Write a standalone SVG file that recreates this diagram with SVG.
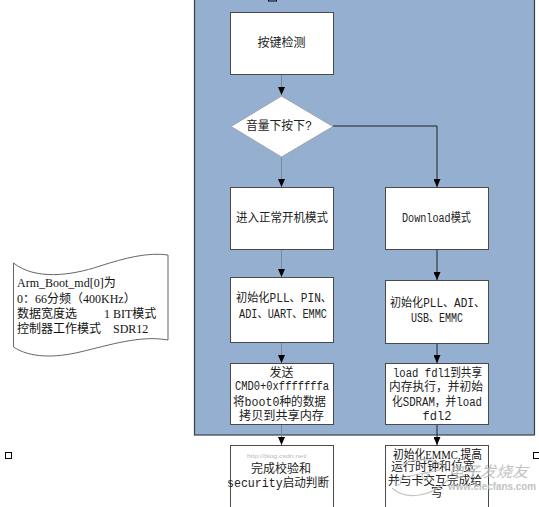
<svg xmlns="http://www.w3.org/2000/svg" width="539" height="507" viewBox="0 0 539 507">
<style>
.box{fill:#fff;stroke:#4a4a4a;stroke-width:1}
.t{font-family:"Liberation Mono","Noto Sans CJK SC",monospace;font-size:12px;fill:#222}
.n{font-family:"Liberation Serif","Noto Sans CJK SC",serif;font-size:12px;fill:#111}
.lg{stroke:#7688a0;stroke-width:1;fill:none}
.ld{stroke:#222;stroke-width:1;fill:none}
.sq{fill:none;stroke:#000;stroke-width:1}
.wm{font-family:"Liberation Sans","Noto Sans CJK SC",sans-serif;fill:#b8b8b8}
</style>
<defs>
<marker id="ah" viewBox="0 0 8 7" refX="8" refY="3.5" markerWidth="8" markerHeight="7" markerUnits="userSpaceOnUse" orient="auto">
<path d="M0,0 L8,3.5 L0,7 Z" fill="#000"/>
</marker>
</defs>
<rect width="539" height="507" fill="#fff"/>
<g id="panel">
<rect x="194.5" y="-2" width="340" height="437" fill="#95afd0" stroke="#3a3f4a" stroke-width="1.2"/>
</g>
<g id="markers">
<rect class="sq" x="5.5" y="452.5" width="6" height="6"/>
<rect class="sq" x="533.5" y="452.5" width="6" height="6"/>
<rect class="sq" x="268.5" y="-5" width="8" height="6"/>
</g>
<g id="note">
<path d="M13.5,263 C35,280 70,276 100,266 C125,258 148,252 168,255 L168,340 C140,335 110,345 80,352 C55,358 30,358 13.5,347 Z" fill="#fff" stroke="#666" stroke-width="1"/>
<text class="n" x="17" y="287">Arm_Boot_md[0]为</text>
<text class="n" x="17" y="303">0：66分频（400KHz）</text>
<text class="n" x="17" y="318">数据宽度选</text>
<text class="n" x="104" y="318">1 BIT模式</text>
<text class="n" x="17" y="333">控制器工作模式</text>
<text class="n" x="113" y="333">SDR12</text>
</g>
<g id="connectors">
<path class="lg" d="M281.5,74 V95" marker-end="url(#ah)"/>
<path class="lg" d="M281.5,157 V187" marker-end="url(#ah)"/>
<path class="ld" d="M333,126 H437 V187" marker-end="url(#ah)"/>
<path class="lg" d="M281.5,249 V277" marker-end="url(#ah)"/>
<path class="ld" d="M437,249 V280" marker-end="url(#ah)"/>
<path class="lg" d="M281.5,342 V363" marker-end="url(#ah)"/>
<path class="ld" d="M437,343 V363" marker-end="url(#ah)"/>
<path class="lg" d="M281.5,424 V445" marker-end="url(#ah)"/>
<path class="ld" d="M437,424 V445" marker-end="url(#ah)"/>
</g>
<g id="n_keydetect">
<rect class="box" x="230.5" y="12.5" width="103" height="62"/>
<text class="t" x="281.5" y="47" text-anchor="middle">按键检测</text>
</g>
<g id="n_volume">
<path d="M281.5,96 L333,126.5 L281.5,157 L231,126.5 Z" fill="#fff" stroke="#9aa4b2" stroke-width="1"/>
<text class="t" x="246" y="130" textLength="66" lengthAdjust="spacingAndGlyphs">音量下按下?</text>
</g>
<g id="n_normal">
<rect class="box" x="230.5" y="187.5" width="103" height="62"/>
<text class="t" x="236" y="222" textLength="92" lengthAdjust="spacingAndGlyphs">进入正常开机模式</text>
</g>
<g id="n_download">
<rect class="box" x="385.5" y="187.5" width="103" height="62"/>
<text class="t" x="402" y="222" textLength="69" lengthAdjust="spacingAndGlyphs">Download模式</text>
</g>
<g id="n_init_left">
<rect class="box" x="230.5" y="277.5" width="103" height="65"/>
<text class="t" x="236" y="302" textLength="96" lengthAdjust="spacingAndGlyphs">初始化PLL、PIN、</text>
<text class="t" x="239" y="318" textLength="88" lengthAdjust="spacingAndGlyphs">ADI、UART、EMMC</text>
</g>
<g id="n_init_right">
<rect class="box" x="385.5" y="280.5" width="103" height="63"/>
<text class="t" x="390" y="307" textLength="95" lengthAdjust="spacingAndGlyphs">初始化PLL、ADI、</text>
<text class="t" x="411" y="322" textLength="52" lengthAdjust="spacingAndGlyphs">USB、EMMC</text>
</g>
<g id="n_send">
<rect class="box" x="230.5" y="363.5" width="103" height="61"/>
<text class="t" x="281.5" y="377" text-anchor="middle">发送</text>
<text class="t" x="235" y="390" textLength="94" lengthAdjust="spacingAndGlyphs">CMD0+0xfffffffa</text>
<text class="t" x="233" y="406" textLength="93" lengthAdjust="spacingAndGlyphs">将boot0种的数据</text>
<text class="t" x="239" y="420" textLength="85" lengthAdjust="spacingAndGlyphs">拷贝到共享内存</text>
</g>
<g id="n_load">
<rect class="box" x="385.5" y="363.5" width="103" height="61"/>
<text class="t" x="393" y="377" textLength="89" lengthAdjust="spacingAndGlyphs">load fdl1到共享</text>
<text class="t" x="389" y="391" textLength="94" lengthAdjust="spacingAndGlyphs">内存执行，并初始</text>
<text class="t" x="392" y="406" textLength="90" lengthAdjust="spacingAndGlyphs">化SDRAM，并load</text>
<text class="t" x="437" y="420" text-anchor="middle">fdl2</text>
</g>
<g id="n_verify">
<rect class="box" x="230.5" y="445.5" width="103" height="70"/>
<text class="wm" x="247" y="458" font-size="5.5" textLength="60" lengthAdjust="spacingAndGlyphs">http://blog.csdn.net/</text>
<text class="t" x="281" y="473" text-anchor="middle">完成校验和</text>
<text class="t" x="227" y="487" textLength="102" lengthAdjust="spacingAndGlyphs">security启动判断</text>
</g>
<g id="n_emmc">
<rect class="box" x="385.5" y="445.5" width="103" height="70"/>
<text class="n" x="393" y="459" textLength="89" lengthAdjust="spacingAndGlyphs">初始化EMMC,提高</text>
<text class="t" x="391" y="471" textLength="84" lengthAdjust="spacingAndGlyphs">运行时钟和位宽</text>
<text class="t" x="388" y="485" textLength="94" lengthAdjust="spacingAndGlyphs">并与卡交互完成给</text>
<text class="t" x="437" y="497" text-anchor="middle">写</text>
</g>
<g id="watermark" opacity="0.85">
<path d="M395,470 C410,455 440,458 445,468 M392,488 C405,500 430,498 448,480 M400,478 L440,470" fill="none" stroke="#bcbcbc" stroke-width="1.2"/>
<circle cx="398" cy="482" r="3" fill="none" stroke="#bcbcbc"/>
<circle cx="425" cy="476" r="3" fill="none" stroke="#bcbcbc"/>
<text class="wm" x="448" y="477" font-size="15" font-style="italic" textLength="80" lengthAdjust="spacingAndGlyphs">电子发烧友</text>
<text class="wm" x="448" y="490" font-size="10" font-weight="bold" textLength="88" lengthAdjust="spacingAndGlyphs">www.elecfans.com</text>
</g>
</svg>
